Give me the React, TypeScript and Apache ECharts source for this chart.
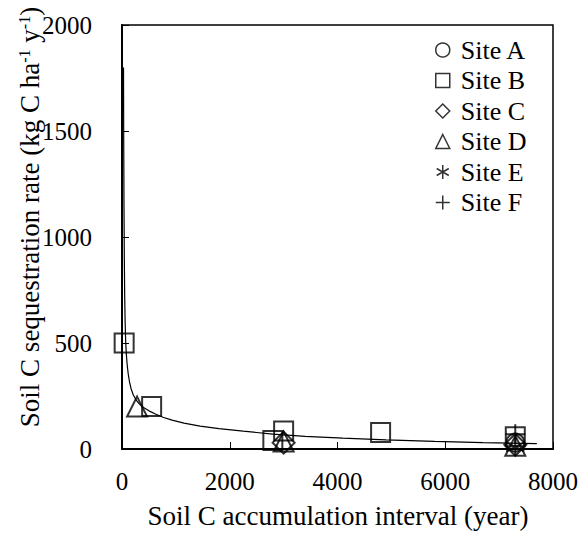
import React, { useEffect, useRef } from "react";
import * as echarts from "echarts";

const SITE_NAMES = ["Site A", "Site B", "Site C", "Site D", "Site E", "Site F"];
const SITE_A = [[7300, 30]];
const SITE_B = [[40, 500], [550, 200], [2800, 40], [3000, 85], [4800, 78], [7300, 58]];
const SITE_C = [[3000, 30], [7300, 20]];
const SITE_D = [[280, 200], [3000, 35], [7300, 15]];
const SITE_E = [[7300, 10]];
const SITE_F = [[7300, 70]];

const CURVE_X = [28, 32, 37, 43, 50, 58, 68, 80, 95, 115, 140, 170, 210, 260, 320, 400, 500, 620, 760, 930, 1150, 1450, 1800, 2250, 2800, 3400, 4100, 4900, 5800, 6700, 7700];
const CURVE_Y = [1800, 1450, 1150, 900, 720, 600, 510, 450, 400, 355, 315, 283, 255, 232, 213, 196, 180, 165, 150, 136, 122, 108, 96, 84, 70, 60, 51, 43, 36, 30, 25];

const ASTERISK = "path://M10,0L10,20M1.34,5L18.66,15M1.34,15L18.66,5";
const PLUS = "path://M0,10L20,10M10,0L10,20";

const FONT = "Liberation Serif";

export default function App() {
  const ref = useRef<HTMLDivElement>(null);
  useEffect(() => {
    if (!ref.current) return;
    const chart = echarts.init(ref.current, null, { renderer: "svg" });
    const hollow = { color: "transparent", borderColor: "#000", borderWidth: 2 };
    const mk = (name: string, data: number[][], symbol: string, size: number) => ({
      name,
      type: "scatter",
      data,
      symbol,
      symbolSize: size,
      itemStyle: hollow,
      z: 3,
    });
    chart.setOption({
      animation: false,
      backgroundColor: "#fff",
      grid: { left: 122, right: 31, top: 25, bottom: 86, show: true, borderColor: "#000", borderWidth: 1.5 },
      xAxis: {
        type: "value",
        min: 0,
        max: 8000,
        interval: 2000,
        axisLine: { show: true, onZero: false, lineStyle: { color: "#000", width: 2 } },
        axisTick: { show: true, inside: true, length: 7, lineStyle: { color: "#000", width: 1 } },
        axisLabel: { color: "#000", fontFamily: FONT, fontSize: 25, margin: 20, formatter: (v: number) => String(v) },
        splitLine: { show: false },
      },
      yAxis: {
        type: "value",
        min: 0,
        max: 2000,
        interval: 500,
        axisLine: { show: true, onZero: false, lineStyle: { color: "#000", width: 2 } },
        axisTick: { show: true, inside: true, length: 7, lineStyle: { color: "#000", width: 1 } },
        axisLabel: { color: "#000", fontFamily: FONT, fontSize: 25, margin: 30, formatter: (v: number) => String(v) },
        splitLine: { show: false },
      },
      legend: {
        orient: "vertical",
        left: 430,
        top: 32,
        itemWidth: 14,
        itemHeight: 14,
        itemGap: 4.5,
        itemStyle: { color: "transparent", borderColor: "#000", borderWidth: 1.5 },
        textStyle: { color: "#000", fontFamily: FONT, fontSize: 26, lineHeight: 26, padding: [0, 0, 0, 6] },
        data: SITE_NAMES,
      },
      graphic: [
        {
          type: "text",
          x: 30,
          y: 217,
          rotation: Math.PI / 2,
          style: {
            text: "Soil C sequestration rate (kg C ha{s|-1} y{s|-1})",
            fill: "#000",
            font: `27px "${FONT}"`,
            align: "center",
            verticalAlign: "middle",
            rich: {
              s: { fontSize: 16, fontFamily: FONT, fill: "#000", verticalAlign: "top", padding: [0, 0, 10, 0] },
            },
          },
        },
        {
          type: "text",
          x: 338,
          y: 516,
          style: {
            text: "Soil C accumulation interval (year)",
            fill: "#000",
            font: `27px "${FONT}"`,
            align: "center",
            verticalAlign: "middle",
          },
        },
      ],
      series: [
        {
          name: "fit",
          type: "line",
          data: CURVE_X.map((x, i) => [x, CURVE_Y[i]]),
          showSymbol: false,
          symbol: "none",
          smooth: false,
          lineStyle: { color: "#000", width: 1.2 },
          z: 2,
        },
        mk(SITE_NAMES[0], SITE_A, "circle", 18),
        mk(SITE_NAMES[1], SITE_B, "rect", 19),
        mk(SITE_NAMES[2], SITE_C, "diamond", 22),
        mk(SITE_NAMES[3], SITE_D, "triangle", 20),
        mk(SITE_NAMES[4], SITE_E, ASTERISK, 18),
        mk(SITE_NAMES[5], SITE_F, PLUS, 20),
      ],
    });
    return () => chart.dispose();
  }, []);
  return (
    <div
      ref={ref}
      style={{ position: "fixed", left: 0, top: 0, width: 584, height: 535, background: "#fff" }}
    />
  );
}
